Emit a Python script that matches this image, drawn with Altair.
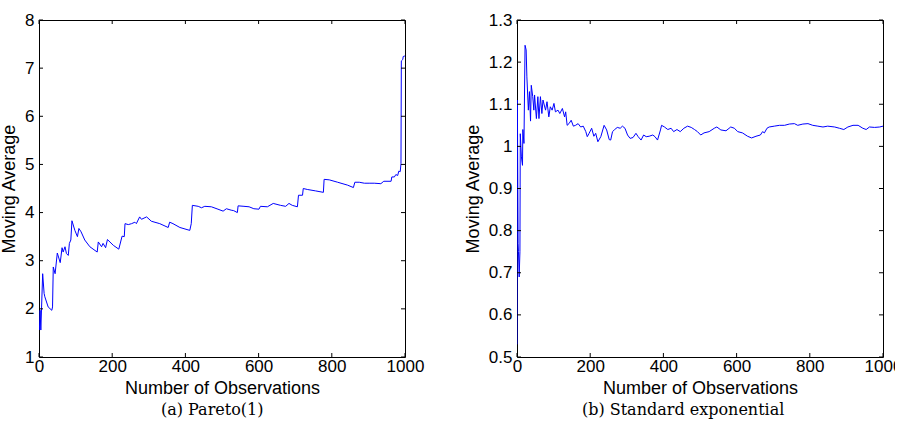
import altair as alt
import pandas as pd

# ---- data ----
pareto_n = [1, 3, 5, 10, 14, 16, 25, 35, 37, 39, 44, 50, 58, 63, 66, 71, 75, 80, 83, 87,
            90, 98, 105, 109, 115, 125, 139, 159, 162, 171, 175, 182, 187, 203, 218, 227,
            233, 235, 244, 253, 262, 266, 275, 280, 294, 307, 330, 353, 357, 366, 385, 412,
            416, 419, 435, 444, 453, 471, 489, 503, 512, 525, 532, 542, 544, 560, 574, 587,
            601, 605, 624, 640, 660, 674, 683, 692, 706, 709, 720, 722, 733, 756, 777, 779,
            793, 816, 843, 859, 863, 875, 889, 902, 916, 934, 942, 962, 964, 971, 975, 980,
            983, 987, 989, 990, 994, 995, 998, 1000]
pareto_avg = [1.56, 1.97, 1.56, 2.73, 2.32, 2.25, 2.04, 1.97, 2.04, 2.87, 2.73, 3.16, 2.96,
              3.27, 3.18, 3.29, 3.15, 3.11, 3.36, 3.43, 3.83, 3.63, 3.50, 3.67, 3.60, 3.43,
              3.29, 3.18, 3.39, 3.29, 3.36, 3.27, 3.44, 3.32, 3.24, 3.51, 3.50, 3.77, 3.75,
              3.77, 3.80, 3.77, 3.91, 3.86, 3.91, 3.82, 3.77, 3.69, 3.80, 3.77, 3.69, 3.63,
              3.77, 4.15, 4.13, 4.10, 4.13, 4.12, 4.07, 4.03, 4.08, 4.05, 4.04, 4.00, 4.14,
              4.13, 4.12, 4.08, 4.07, 4.13, 4.12, 4.19, 4.15, 4.13, 4.19, 4.15, 4.12, 4.36,
              4.36, 4.50, 4.48, 4.45, 4.42, 4.69, 4.68, 4.63, 4.57, 4.52, 4.63, 4.63, 4.61,
              4.61, 4.61, 4.60, 4.65, 4.65, 4.74, 4.74, 4.79, 4.77, 4.86, 4.85, 5.02, 7.15,
              7.18, 7.24, 7.25, 7.25]

expo_n = [0, 1, 3, 4, 6, 8, 9, 12, 15, 16, 19, 22, 25, 27, 31, 34, 37, 39, 43, 46, 48, 53,
          57, 60, 64, 68, 71, 78, 82, 87, 91, 96, 101, 105, 112, 117, 124, 130, 133, 137,
          142, 148, 154, 160, 167, 174, 181, 188, 192, 197, 204, 210, 215, 221, 229, 238,
          245, 252, 256, 261, 267, 274, 282, 288, 295, 302, 309, 317, 325, 331, 339, 346,
          353, 361, 371, 377, 384, 392, 395, 403, 412, 421, 428, 437, 446, 456, 466, 476,
          485, 493, 502, 511, 525, 539, 546, 557, 571, 584, 594, 603, 616, 630, 641, 653,
          665, 671, 676, 683, 689, 703, 717, 731, 744, 758, 767, 781, 795, 808, 822, 836,
          849, 868, 881, 893, 904, 918, 932, 945, 954, 963, 977, 991, 1000]
expo_avg = [0.53, 1.11, 0.77, 0.75, 0.69, 0.75, 1.03, 0.975, 0.955, 1.04, 1.007, 1.24, 1.229,
            1.165, 1.086, 1.13, 1.06, 1.145, 1.118, 1.086, 1.122, 1.066, 1.118, 1.066, 1.118,
            1.078, 1.11, 1.086, 1.106, 1.07, 1.094, 1.086, 1.102, 1.082, 1.086, 1.078, 1.09,
            1.07, 1.082, 1.05, 1.054, 1.062, 1.048, 1.05, 1.054, 1.046, 1.048, 1.035, 1.023,
            1.031, 1.043, 1.024, 1.031, 1.011, 1.023, 1.05, 1.039, 1.016, 1.015, 1.035, 1.04,
            1.045, 1.043, 1.048, 1.043, 1.027, 1.019, 1.021, 1.031, 1.023, 1.015, 1.027,
            1.023, 1.024, 1.027, 1.023, 1.015, 1.039, 1.05, 1.046, 1.04, 1.043, 1.035, 1.04,
            1.035, 1.043, 1.048, 1.045, 1.04, 1.035, 1.027, 1.032, 1.035, 1.043, 1.046,
            1.039, 1.037, 1.046, 1.043, 1.035, 1.032, 1.024, 1.020, 1.024, 1.027, 1.035,
            1.032, 1.043, 1.046, 1.048, 1.05, 1.05, 1.053, 1.054, 1.05, 1.053, 1.054, 1.05,
            1.048, 1.046, 1.048, 1.046, 1.043, 1.040, 1.046, 1.05, 1.05, 1.043, 1.040, 1.046,
            1.045, 1.046, 1.048]

x_ticks = [0, 200, 400, 600, 800, 1000]
pareto_yticks = [1, 2, 3, 4, 5, 6, 7, 8]
expo_yticks = [0.5, 0.6, 0.7, 0.8, 0.9, 1.0, 1.1, 1.2, 1.3]

captions = ["(a) Pareto(1)", "(b) Standard exponential"]
x_title = "Number of Observations"
y_title = "Moving Average"

W, H = 366, 337
TICK = 4
FONT = "Liberation Sans"


def panel(ns, avgs, yticks, ydomain, fmt, caption):
    df = pd.DataFrame({"n": ns, "avg": avgs})
    xs = alt.Scale(domain=[0, 1000], nice=False, zero=False)
    ys = alt.Scale(domain=ydomain, nice=False, zero=False)
    xax = alt.Axis(values=x_ticks, title=x_title, format="d")
    yax = alt.Axis(values=yticks, title=y_title, format=fmt)
    X = alt.X("n:Q", scale=xs, axis=xax)
    Y = alt.Y("avg:Q", scale=ys, axis=yax)
    line = alt.Chart(df).mark_line(color="#0000ff", strokeWidth=1, clip=True).encode(x=X, y=Y)
    xt = pd.DataFrame({"n": x_ticks})
    yt = pd.DataFrame({"avg": yticks})
    rule = dict(color="black", strokeWidth=1)
    bot = alt.Chart(xt).mark_rule(**rule).encode(x=X, y=alt.value(H), y2=alt.value(H - TICK))
    top = alt.Chart(xt).mark_rule(**rule).encode(x=X, y=alt.value(0), y2=alt.value(TICK))
    lft = alt.Chart(yt).mark_rule(**rule).encode(y=Y, x=alt.value(0), x2=alt.value(TICK))
    rgt = alt.Chart(yt).mark_rule(**rule).encode(y=Y, x=alt.value(W), x2=alt.value(W - TICK))
    return alt.layer(line, bot, top, lft, rgt).properties(
        width=W, height=H,
        title=alt.TitleParams(caption, orient="bottom", font="DejaVu Serif",
                              fontSize=16, fontWeight="normal", color="black",
                              offset=5, anchor="middle", frame="bounds"),
    )


left = panel(pareto_n, pareto_avg, pareto_yticks, [1, 8], "d", captions[0])
right = panel(expo_n, expo_avg, expo_yticks, [0.5, 1.3], ".1~f", captions[1])

chart = alt.hconcat(left, right, spacing=112, bounds="flush").properties(
    padding={"left": 0, "top": 10, "right": -8, "bottom": 0}
).configure_view(
    stroke="black", strokeWidth=1
).configure_axis(
    grid=False, ticks=False, domain=False, labelFlush=False, labelOverlap=False,
    labelFont=FONT, labelFontSize=17, labelColor="black",
    titleFont=FONT, titleFontSize=18, titleFontWeight="normal", titleColor="black",
).configure_axisX(
    labelPadding=1, titlePadding=5,
).configure_axisY(
    labelPadding=5, titlePadding=6,
)

chart.save("out.html", embed_options={"renderer": "svg", "actions": False})
